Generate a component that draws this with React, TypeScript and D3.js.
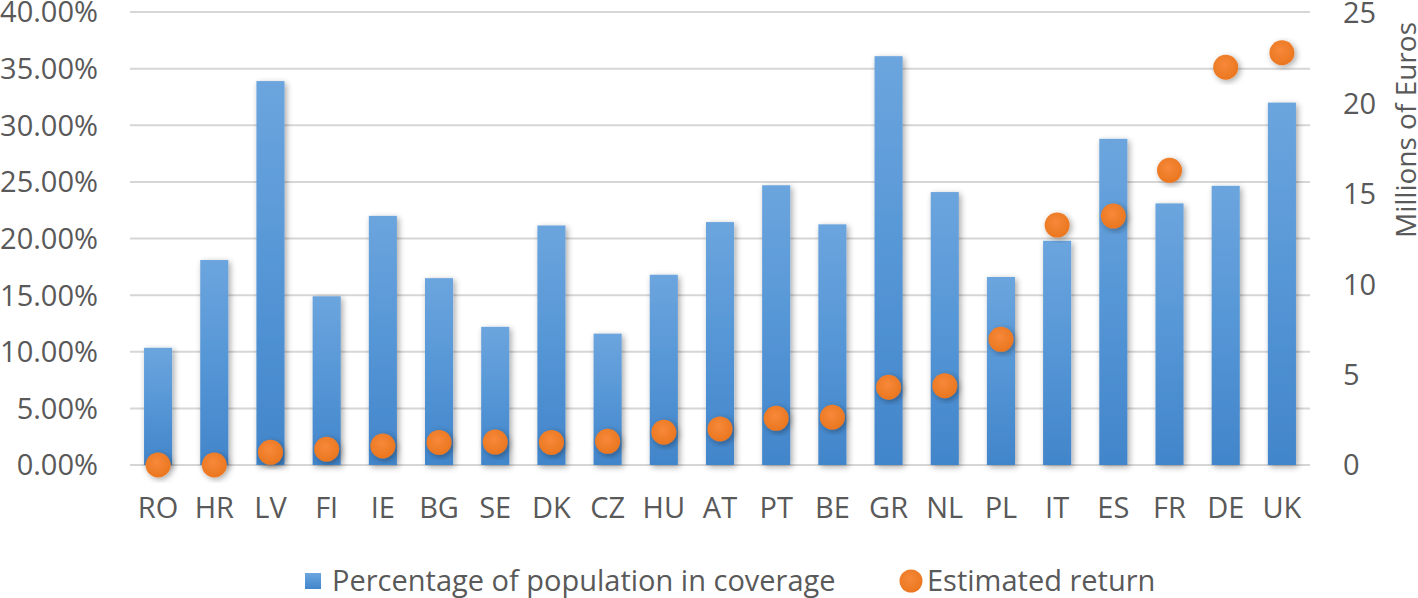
import React from "react";
import * as d3 from "d3";

const categories = ["RO","HR","LV","FI","IE","BG","SE","DK","CZ","HU","AT","PT","BE","GR","NL","PL","IT","ES","FR","DE","UK"];
const coverage = [10.35,18.1,33.9,14.9,22.0,16.5,12.2,21.15,11.6,16.8,21.45,24.7,21.25,36.1,24.1,16.6,19.8,28.8,23.1,24.65,32.0];
const estimatedReturn = [0.0,0.0,0.7,0.87,1.05,1.25,1.27,1.25,1.31,1.81,1.99,2.58,2.64,4.3,4.39,6.95,13.27,13.77,16.3,22.0,22.8];
const leftTicks = [0,5,10,15,20,25,30,35,40];
const rightTicks = [0,5,10,15,20,25];
const legendLabels = ["Percentage of population in coverage","Estimated return"];
const rightTitle = "Millions of Euros";

const W = 1418, H = 598;
const FONT = "'Open Sans', sans-serif";
const TEXT = "#595959";
const FS = 29;

export default function App() {
  const x = d3.scaleBand<string>().domain(categories).range([130, 1310]).paddingInner(0.5).paddingOuter(0.25);
  const yL = d3.scaleLinear().domain([0, 40]).range([465, 12]);
  const yR = d3.scaleLinear().domain([0, 25]).range([465, 13]);
  const bw = x.bandwidth();
  return (
    <svg width={W} height={H} style={{ position: "absolute", left: 0, top: 0, background: "#fff" }}>
      <defs>
        <linearGradient id="barGrad" x1="0" y1="0" x2="0" y2="1">
          <stop offset="0%" stopColor="#6ca5de" />
          <stop offset="50%" stopColor="#5596d6" />
          <stop offset="100%" stopColor="#4285ca" />
        </linearGradient>
        <radialGradient id="dotGrad" cx="45%" cy="40%" r="60%">
          <stop offset="0%" stopColor="#f7893a" />
          <stop offset="100%" stopColor="#ea761f" />
        </radialGradient>
        <filter id="shadow" x="-50%" y="-20%" width="200%" height="140%">
          <feGaussianBlur in="SourceAlpha" stdDeviation="3" />
          <feOffset dx="2" dy="2" result="b" />
          <feComponentTransfer><feFuncA type="linear" slope="0.35" /></feComponentTransfer>
          <feMerge><feMergeNode /><feMergeNode in="SourceGraphic" /></feMerge>
        </filter>
      </defs>
      {leftTicks.map((t) => (
        <line key={"g" + t} x1={130} x2={1310} y1={yL(t)} y2={yL(t)} stroke="#d6d6d6" strokeWidth={2} />
      ))}
      {leftTicks.map((t) => (
        <text key={"l" + t} x={98} y={yL(t)} dy="0.36em" textAnchor="end" fontFamily={FONT} fontSize={FS} fill={TEXT}>
          {d3.format(".2f")(t) + "%"}
        </text>
      ))}
      {rightTicks.map((t) => (
        <text key={"r" + t} x={1343} y={yR(t)} dy="0.36em" textAnchor="start" fontFamily={FONT} fontSize={FS} fill={TEXT}>
          {t}
        </text>
      ))}
      <text transform={`translate(1406,130) rotate(-90)`} textAnchor="middle" dy="0.36em" fontFamily={FONT} fontSize={28} fill={TEXT}>
        {rightTitle}
      </text>
      {categories.map((c, i) => (
        <rect key={"b" + c} x={x(c)} y={yL(coverage[i])} width={bw} height={yL(0) - yL(coverage[i])} fill="url(#barGrad)" filter="url(#shadow)" />
      ))}
      {categories.map((c, i) => (
        <circle key={"d" + c} cx={(x(c) as number) + bw / 2} cy={yR(estimatedReturn[i])} r={12.5} fill="url(#dotGrad)" filter="url(#shadow)" />
      ))}
      {categories.map((c) => (
        <text key={"x" + c} x={(x(c) as number) + bw / 2} y={508} dy="0.36em" textAnchor="middle" fontFamily={FONT} fontSize={FS} fill={TEXT}>
          {c}
        </text>
      ))}
      <rect x={305} y={573} width={16} height={16} fill="url(#barGrad)" />
      <text x={332} y={581} dy="0.36em" fontFamily={FONT} fontSize={FS} fill={TEXT}>{legendLabels[0]}</text>
      <circle cx={911} cy={581} r={11.5} fill="url(#dotGrad)" />
      <text x={927} y={581} dy="0.36em" fontFamily={FONT} fontSize={FS} fill={TEXT}>{legendLabels[1]}</text>
    </svg>
  );
}
